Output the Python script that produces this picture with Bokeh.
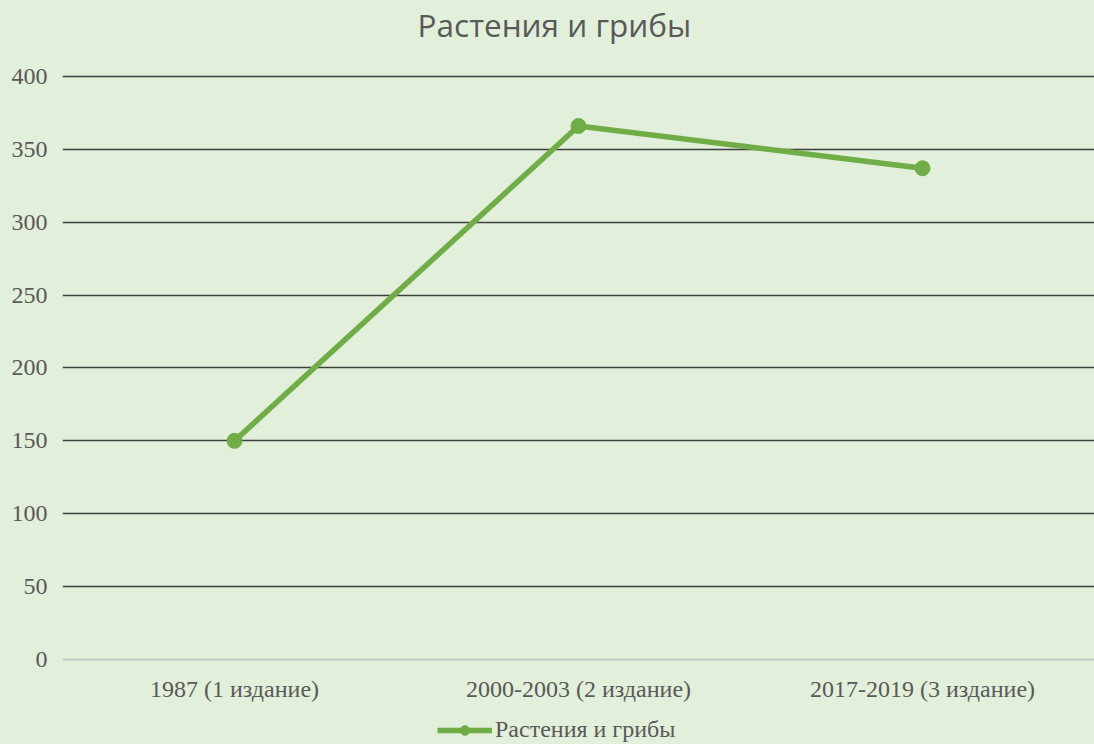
from bokeh.plotting import figure
from bokeh.models import FactorRange, FixedTicker, Legend, LegendItem, ColumnDataSource, Label
from bokeh.embed import file_html
from bokeh.resources import INLINE

# Data
categories = ["1987 (1 издание)", "2000-2003 (2 издание)", "2017-2019 (3 издание)"]
values = [150, 366, 337]
series_name = "Растения и грибы"
chart_title = "Растения и грибы"
y_ticks = [0, 50, 100, 150, 200, 250, 300, 350, 400]

BG = "#E2EFDA"
GREEN = "#70AD47"
TXT = "#595959"
SERIF = "Liberation Serif"

src = ColumnDataSource(dict(x=categories, y=values))

p = figure(
    x_range=FactorRange(*categories, range_padding=0),
    y_range=(-58.3, 452.1),
    width=1094, height=744,
    output_backend="svg", toolbar_location=None,
    min_border_left=62, min_border_right=0, min_border_top=0, min_border_bottom=0,
    background_fill_color=BG, border_fill_color=BG,
)
p.outline_line_color = None

title = Label(x=1.43, y=435.5, text=chart_title, text_align="center", text_baseline="alphabetic",
              text_font="Open Sans", text_font_size="31.5px", text_color=TXT)
p.add_layout(title, "center")

line = p.line("x", "y", source=src, line_color=GREEN, line_width=5.5)
dots = p.scatter("x", "y", source=src, size=15, fill_color=GREEN, line_color=GREEN)

# axes
p.yaxis.ticker = FixedTicker(ticks=y_ticks)
p.yaxis.axis_line_color = None
p.yaxis.major_tick_line_color = None
p.yaxis.minor_tick_line_color = None
p.yaxis.major_label_text_font = SERIF
p.yaxis.major_label_text_font_size = "24px"
p.yaxis.major_label_text_color = TXT
p.yaxis.major_label_standoff = 9

p.xaxis.fixed_location = 0
p.xaxis.axis_line_color = "#BFBFBF"
p.xaxis.axis_line_width = 1.5
p.xaxis.major_tick_line_color = None
p.xaxis.minor_tick_line_color = None
p.xaxis.major_label_text_font = SERIF
p.xaxis.major_label_text_font_size = "24px"
p.xaxis.major_label_text_color = TXT
p.xaxis.major_label_standoff = 10

p.xgrid.grid_line_color = None
p.ygrid.ticker = FixedTicker(ticks=[v for v in y_ticks if v != 0])
p.ygrid.grid_line_color = "#3F3F3F"
p.ygrid.grid_line_width = 1.5

legend = Legend(items=[LegendItem(label=series_name, renderers=[line, dots])],
                location=(375, 1), orientation="horizontal",
                background_fill_alpha=0, border_line_color=None,
                padding=0, margin=0, glyph_width=55, glyph_height=24,
                label_text_font=SERIF, label_text_font_size="24px",
                label_text_color=TXT, label_standoff=3)
p.add_layout(legend, "center")

html = file_html(p, INLINE)
html = html.replace("</head>", "<style>html,body{margin:0!important;padding:0!important;background:%s;}</style></head>" % BG, 1)
open("out.html", "w").write(html)
